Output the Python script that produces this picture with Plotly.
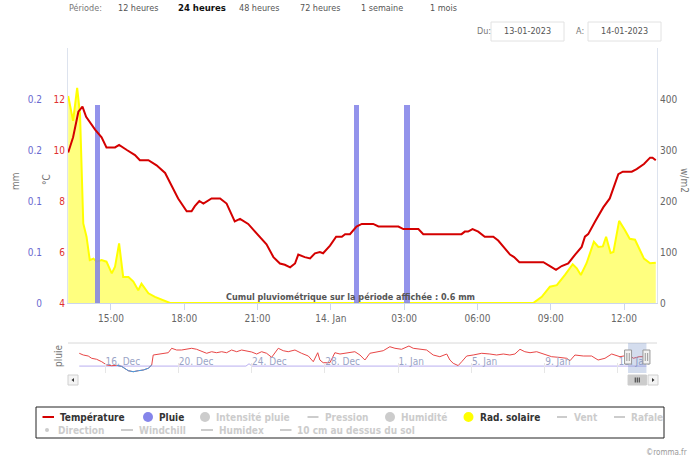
import plotly.graph_objects as go

# ---------------- data ----------------
main_times = [
    "2023-01-13 13:15", "2023-01-13 13:27", "2023-01-13 13:40", "2023-01-13 13:50", "2023-01-13 13:59",
    "2023-01-13 14:08", "2023-01-13 14:21", "2023-01-13 14:37", "2023-01-13 14:49", "2023-01-13 15:10",
    "2023-01-13 15:20", "2023-01-13 15:39", "2023-01-13 15:59", "2023-01-13 16:11", "2023-01-13 16:32",
    "2023-01-13 16:52", "2023-01-13 17:13", "2023-01-13 17:29", "2023-01-13 17:45", "2023-01-13 18:06",
    "2023-01-13 18:18", "2023-01-13 18:26", "2023-01-13 18:37", "2023-01-13 18:47", "2023-01-13 19:07",
    "2023-01-13 19:28", "2023-01-13 19:44", "2023-01-13 20:04", "2023-01-13 20:17", "2023-01-13 20:37",
    "2023-01-13 21:06", "2023-01-13 21:22", "2023-01-13 21:39", "2023-01-13 21:55", "2023-01-13 22:07",
    "2023-01-13 22:20", "2023-01-13 22:32", "2023-01-13 22:40", "2023-01-13 22:56", "2023-01-13 23:09",
    "2023-01-13 23:21", "2023-01-13 23:33", "2023-01-13 23:41", "2023-01-13 23:58", "2023-01-14 00:13",
    "2023-01-14 00:27", "2023-01-14 00:35", "2023-01-14 00:47", "2023-01-14 01:03", "2023-01-14 01:16",
    "2023-01-14 01:44", "2023-01-14 01:57", "2023-01-14 02:46", "2023-01-14 02:58", "2023-01-14 03:35",
    "2023-01-14 03:47", "2023-01-14 05:21", "2023-01-14 05:29", "2023-01-14 05:37", "2023-01-14 05:48",
    "2023-01-14 06:02", "2023-01-14 06:18", "2023-01-14 06:39", "2023-01-14 06:51", "2023-01-14 07:20",
    "2023-01-14 07:30", "2023-01-14 07:43", "2023-01-14 08:42", "2023-01-14 08:58", "2023-01-14 09:13",
    "2023-01-14 09:27", "2023-01-14 09:43", "2023-01-14 10:00", "2023-01-14 10:16", "2023-01-14 10:24",
    "2023-01-14 10:32", "2023-01-14 10:49", "2023-01-14 11:09", "2023-01-14 11:25", "2023-01-14 11:46",
    "2023-01-14 11:57", "2023-01-14 12:19", "2023-01-14 12:31", "2023-01-14 12:49", "2023-01-14 13:04",
    "2023-01-14 13:10", "2023-01-14 13:18",
]
main_temp = [
    9.9, 10.5, 11.5, 11.7, 11.3,
    11.1, 10.8, 10.5, 10.1, 10.1,
    10.2, 10.0, 9.8, 9.6, 9.6,
    9.4, 9.1, 8.6, 8.1, 7.6,
    7.6, 7.8, 8.0, 7.9, 8.1,
    8.1, 7.9, 7.2, 7.3, 7.1,
    6.6, 6.3, 5.8, 5.55, 5.5,
    5.4, 5.55, 5.9, 5.8, 5.75,
    5.95, 6.0, 5.95, 6.25, 6.6,
    6.6, 6.7, 6.7, 7.0, 7.1,
    7.1, 7.0, 7.0, 6.9, 6.9,
    6.7, 6.7, 6.8, 6.8, 6.9,
    6.8, 6.6, 6.6, 6.45, 5.9,
    5.8, 5.6, 5.6, 5.45, 5.3,
    5.45, 5.55, 5.9, 6.2, 6.6,
    6.7, 7.2, 7.75, 8.1, 9.05,
    9.15, 9.15, 9.25, 9.45, 9.7,
    9.7, 9.6,
]

rad_times = [
    "2023-01-13 13:15", "2023-01-13 13:27", "2023-01-13 13:37", "2023-01-13 13:44", "2023-01-13 13:52",
    "2023-01-13 14:00", "2023-01-13 14:08", "2023-01-13 14:17", "2023-01-13 14:25", "2023-01-13 14:37",
    "2023-01-13 14:49", "2023-01-13 15:02", "2023-01-13 15:10", "2023-01-13 15:20", "2023-01-13 15:30",
    "2023-01-13 15:43", "2023-01-13 15:55", "2023-01-13 16:07", "2023-01-13 16:15", "2023-01-13 16:32",
    "2023-01-13 16:48", "2023-01-13 17:08", "2023-01-13 17:25", "2023-01-14 08:17", "2023-01-14 08:38",
    "2023-01-14 08:58", "2023-01-14 09:15", "2023-01-14 09:35", "2023-01-14 09:54", "2023-01-14 10:04",
    "2023-01-14 10:14", "2023-01-14 10:28", "2023-01-14 10:46", "2023-01-14 10:57", "2023-01-14 11:08",
    "2023-01-14 11:16", "2023-01-14 11:27", "2023-01-14 11:34", "2023-01-14 11:48", "2023-01-14 12:02",
    "2023-01-14 12:14", "2023-01-14 12:27", "2023-01-14 12:49", "2023-01-14 13:04", "2023-01-14 13:18",
]
rad_vals = [
    406, 357, 422, 371, 156,
    130, 84, 87, 81, 84,
    81, 58, 71, 117, 51,
    51, 42, 25, 38, 19,
    12, 6, 0, 0, 12,
    32, 35, 55, 76, 68,
    55, 78, 120, 110, 111,
    130, 98, 100, 161, 143,
    126, 124, 87, 78, 79,
]

rain_times = ["2023-01-13 14:28", "2023-01-14 01:04", "2023-01-14 03:07"]
rain_vals = [0.2, 0.2, 0.2]

nav_times = [
    "2022-12-14 14:15", "2022-12-14 19:30", "2022-12-15 02:00", "2022-12-15 06:30", "2022-12-15 13:00",
    "2022-12-15 19:40", "2022-12-16 02:10", "2022-12-16 08:40", "2022-12-16 15:20", "2022-12-16 21:50",
    "2022-12-17 06:30", "2022-12-17 13:00", "2022-12-17 19:40", "2022-12-18 02:10", "2022-12-18 08:40",
    "2022-12-18 13:10", "2022-12-18 15:10", "2022-12-18 21:50", "2022-12-19 04:20", "2022-12-19 10:50",
    "2022-12-19 15:20", "2022-12-19 21:50", "2022-12-20 04:20", "2022-12-20 11:00", "2022-12-20 17:30",
    "2022-12-21 00:00", "2022-12-21 06:40", "2022-12-21 13:10", "2022-12-21 19:40", "2022-12-22 02:10",
    "2022-12-22 08:50", "2022-12-22 15:20", "2022-12-22 21:50", "2022-12-23 04:30", "2022-12-23 11:00",
    "2022-12-23 17:30", "2022-12-24 00:10", "2022-12-24 06:40", "2022-12-24 13:10", "2022-12-24 19:40",
    "2022-12-25 02:20", "2022-12-25 11:00", "2022-12-25 17:30", "2022-12-26 00:00", "2022-12-26 08:50",
    "2022-12-26 17:30", "2022-12-27 02:20", "2022-12-27 08:50", "2022-12-27 14:40", "2022-12-27 17:30",
    "2022-12-27 21:50", "2022-12-28 06:40", "2022-12-28 13:10", "2022-12-28 19:50", "2022-12-29 04:30",
    "2022-12-29 15:20", "2022-12-29 22:00", "2022-12-30 04:30", "2022-12-30 11:00", "2022-12-30 19:50",
    "2022-12-31 04:30", "2022-12-31 13:10", "2022-12-31 19:50", "2023-01-01 04:30", "2023-01-01 14:10",
    "2023-01-01 19:50", "2023-01-02 04:30", "2023-01-02 13:20", "2023-01-02 22:00", "2023-01-03 06:40",
    "2023-01-03 15:40", "2023-01-03 19:50", "2023-01-04 00:10", "2023-01-04 06:40", "2023-01-04 11:20",
    "2023-01-04 17:50", "2023-01-05 02:20", "2023-01-05 13:30", "2023-01-06 00:10", "2023-01-06 09:00",
    "2023-01-06 17:50", "2023-01-07 02:20", "2023-01-07 09:00", "2023-01-07 15:40", "2023-01-07 22:00",
    "2023-01-08 04:50", "2023-01-08 13:30", "2023-01-08 20:00", "2023-01-09 02:40", "2023-01-09 09:10",
    "2023-01-09 17:50", "2023-01-10 04:50", "2023-01-10 09:10", "2023-01-10 15:40", "2023-01-11 02:40",
    "2023-01-11 13:30", "2023-01-11 22:00", "2023-01-12 07:00", "2023-01-12 15:50", "2023-01-13 02:40",
    "2023-01-13 14:20", "2023-01-13 20:10", "2023-01-14 03:50", "2023-01-14 11:20",
]
nav_temp = [
    8.9, 7.7, 7.0, 5.4, 4.7,
    3.0, 0.7, 0.2, 0.5, -0.3,
    -3.3, -4.0, -3.3, -2.8, -1.6,
    0.7, 7.7, 8.4, 8.9, 9.3,
    12.4, 11.2, 11.2, 11.7, 12.4,
    11.7, 10.0, 8.9, 10.0, 9.3,
    10.0, 9.3, 11.2, 10.0, 11.2,
    10.7, 9.8, 8.4, 10.0, 8.9,
    6.1, 12.4, 10.7, 10.0, 11.2,
    8.9, 7.0, 3.0, 9.3, 4.2,
    2.3, 2.3, 9.3, 8.4, 8.9,
    10.0, 7.7, 4.2, 8.9, 10.0,
    10.7, 13.5, 12.4, 11.7, 14.0,
    12.4, 11.7, 11.2, 7.7, 6.5,
    8.4, 4.2, 1.9, 0.3, 3.0,
    7.0, 7.7, 8.9, 8.4, 7.7,
    8.4, 7.7, 8.4, 11.7, 10.0,
    9.3, 10.0, 8.9, 7.7, 6.5,
    6.1, 5.4, 3.7, 7.7, 7.0,
    7.0, 4.2, 5.4, 8.4, 6.5,
    7.7, 5.4, 6.5, 6.5,
]
nav_rain_times = ["2022-12-14 14:15", "2022-12-23 16:40", "2022-12-23 20:40", "2022-12-24 00:40", "2023-01-14 13:20"]
nav_rain_vals = [0, 0, 0.1, 0, 0]

x_tick_vals = ["2023-01-13 15:00", "2023-01-13 18:00", "2023-01-13 21:00", "2023-01-14 00:00",
               "2023-01-14 03:00", "2023-01-14 06:00", "2023-01-14 09:00", "2023-01-14 12:00"]
x_tick_text = ["15:00", "18:00", "21:00", "14. Jan", "03:00", "06:00", "09:00", "12:00"]
temp_ticks = [4, 6, 8, 10, 12]
rain_tick_vals = [0, 0.0515, 0.103, 0.1545, 0.206]
rain_tick_text = ["0", "0.1", "0.1", "0.2", "0.2"]
rad_ticks = [0, 100, 200, 300, 400]
nav_tick_vals = ["2022-12-16", "2022-12-20", "2022-12-24", "2022-12-28",
                 "2023-01-01", "2023-01-05", "2023-01-09", "2023-01-13"]
nav_tick_text = ["16. Dec", "20. Dec", "24. Dec", "28. Dec", "1. Jan", "5. Jan", "9. Jan", "13. Jan"]

view_start = "2023-01-13 13:14:30"
view_end = "2023-01-14 13:21"
nav_start = "2022-12-13 23:30"
nav_end = "2023-01-15 03:10"

period_labels = ["12 heures", "24 heures", "48 heures", "72 heures", "1 semaine", "1 mois"]
date_from = "13-01-2023"
date_to = "14-01-2023"
cumul_text = "Cumul pluviométrique sur la période affichée : 0.6 mm"

legend_labels = ["Température", "Pluie", "Intensité pluie", "Pression", "Humidité", "Rad. solaire",
                 "Vent", "Rafale", "Direction", "Windchill", "Humidex", "10 cm au dessus du sol"]
legend_active = [True, True, False, False, False, True, False, False, False, False, False, False]
legend_symbol = ["line", "circle", "circle", "line", "circle", "circle",
                 "line", "line", "dot", "line", "line", "line"]

# ---------------- styling / layout ----------------
W, H = 700, 462
FONT = "DejaVu Sans Condensed"
RED = "#d40000"
BLUE_BAR = "rgba(128,128,232,0.85)"
YELLOW = "#ffff00"


def X(px):
    return px / W


def Y(py):
    return 1 - py / H


fig = go.Figure()

fig.add_trace(go.Scatter(
    x=rad_times, y=rad_vals, name="Rad. solaire", mode="lines", yaxis="y",
    line=dict(color=YELLOW, width=2), fill="tozeroy", fillcolor="rgba(255,255,0,0.5)",
    showlegend=False, hoverinfo="skip"))
fig.add_trace(go.Bar(
    x=rain_times, y=rain_vals, name="Pluie", yaxis="y2", width=740000,
    marker=dict(color=BLUE_BAR, line=dict(width=0)), showlegend=False, hoverinfo="skip"))
fig.add_trace(go.Scatter(
    x=main_times, y=main_temp, name="Température", mode="lines", yaxis="y3",
    line=dict(color=RED, width=2), showlegend=False, hoverinfo="skip"))

# navigator
fig.add_trace(go.Scatter(
    x=nav_rain_times, y=nav_rain_vals, mode="lines", xaxis="x2", yaxis="y4",
    line=dict(color="rgb(185,175,240)", width=1), showlegend=False, hoverinfo="skip"))
fig.add_trace(go.Scatter(
    x=nav_times, y=nav_temp, mode="lines", xaxis="x2", yaxis="y5",
    line=dict(color="rgb(232,70,70)", width=1), showlegend=False, hoverinfo="skip"))
neg_idx = [i for i, v in enumerate(nav_temp)
           if v < 0 or (i > 0 and nav_temp[i - 1] < 0) or (i + 1 < len(nav_temp) and nav_temp[i + 1] < 0)]
fig.add_trace(go.Scatter(
    x=[nav_times[i] for i in neg_idx], y=[nav_temp[i] for i in neg_idx], mode="lines",
    xaxis="x2", yaxis="y5", line=dict(color="rgb(60,160,230)", width=1),
    showlegend=False, hoverinfo="skip"))

main_dom_x = [X(68), X(657)]
main_dom_y = [Y(303), Y(48)]
nav_dom_y = [Y(373), Y(343)]

tick_font = dict(family=FONT, size=10, color="#666666")

fig.update_layout(
    width=W, height=H, margin=dict(l=0, r=0, t=0, b=0, pad=0, autoexpand=False),
    paper_bgcolor="white", plot_bgcolor="white",
    font=dict(family=FONT, size=10, color="#666666"),
    showlegend=False, bargap=0,
    xaxis=dict(domain=main_dom_x, type="date", range=[view_start, view_end], anchor="y",
               tickmode="array", tickvals=x_tick_vals, ticktext=x_tick_text, automargin=False,
               showgrid=False, zeroline=False, showline=True, linecolor="#ccd6eb", linewidth=1,
               ticks="outside", ticklen=6, tickcolor="#ccd6eb", tickfont=tick_font),
    yaxis=dict(domain=main_dom_y, range=[0, 500], side="right", anchor="x", automargin=False,
               tickmode="array", tickvals=rad_ticks, showgrid=False, zeroline=False,
               showline=True, linecolor="#dde3ee", ticks="", ticklabelstandoff=0, tickfont=tick_font),
    yaxis2=dict(range=[0, 0.2575], overlaying="y", side="left", anchor="free", position=X(42),
                tickmode="array", tickvals=rain_tick_vals, ticktext=rain_tick_text, automargin=False,
                showgrid=False, zeroline=False, showline=False, ticks="", ticklabelstandoff=0,
                tickfont=dict(family=FONT, size=10, color="#6a6ad0")),
    yaxis3=dict(range=[4, 14], overlaying="y", side="left", anchor="x", automargin=False,
                tickmode="array", tickvals=temp_ticks, showgrid=False, zeroline=False,
                showline=True, linecolor="#dde3ee", ticks="", ticklabelstandoff=0,
                tickfont=dict(family=FONT, size=10, color="#e03030")),
    xaxis2=dict(domain=main_dom_x, type="date", range=[nav_start, nav_end], anchor="y4",
                tickmode="array", tickvals=nav_tick_vals, ticktext=nav_tick_text, automargin=False,
                showgrid=False, zeroline=False, showline=False,
                ticks="inside", ticklen=10, tickcolor="#e6e6e6", ticklabelposition="inside right",
                tickfont=dict(family=FONT, size=10, color="#9aa4c6")),
    yaxis4=dict(domain=nav_dom_y, range=[-0.3, 1.0], anchor="x2", visible=False, automargin=False),
    yaxis5=dict(range=[-4.9, 16.1], overlaying="y4", anchor="x2", visible=False, automargin=False),
)

shapes = []
ann = []


def text(t, x, y, size=10, color="#666666", bold=False, xanchor="left", angle=0, family=FONT):
    ann.append(dict(text=("<b>%s</b>" % t) if bold else t, x=X(x), y=Y(y), xref="paper", yref="paper",
                    xanchor=xanchor, yanchor="middle", showarrow=False, textangle=angle,
                    font=dict(family=family, size=size, color=color)))


# header
text("Période:", 67, 8, size=9, color="#777777")
period_x = [116, 176, 237, 298, 359, 428]
for lbl, px in zip(period_labels, period_x):
    sel = lbl == "24 heures"
    text(lbl, px, 8, size=9.5 if sel else 9, color="#111111" if sel else "#555555", bold=sel)
text("Du:", 475, 31, size=9, color="#777777")
text("A:", 574, 31, size=9, color="#777777")
for (x0, x1), d in zip([(491, 564), (588, 661)], [date_from, date_to]):
    shapes.append(dict(type="rect", xref="paper", yref="paper", x0=X(x0), x1=X(x1), y0=Y(41), y1=Y(22),
                       line=dict(color="#e2e2e2", width=1), fillcolor="white"))
    text(d, (x0 + x1) / 2, 31, size=9, color="#555555", xanchor="center")

# axis titles
text("mm", 15, 181, size=10, color="#777777", xanchor="center", angle=-90)
text("°C", 46, 180, size=10, color="#777777", xanchor="center", angle=-90)
text("w/m2", 685, 180, size=10, color="#777777", xanchor="center", angle=90)
text("pluie", 58, 356, size=10, color="#777777", xanchor="center", angle=-90)

# cumul annotation
text(cumul_text, 350, 297, size=9, color="#555555", bold=True, xanchor="center")

# navigator outline, selection, handles
shapes.append(dict(type="line", xref="paper", yref="paper", x0=X(68), x1=X(657), y0=Y(343), y1=Y(343),
                   line=dict(color="#d8d8d8", width=1)))
shapes.append(dict(type="rect", xref="x2", yref="paper", x0=view_start, x1=view_end,
                   y0=Y(373), y1=Y(343), line=dict(width=0), fillcolor="rgba(102,133,194,0.28)"))
for edge in (view_start, view_end):
    shapes.append(dict(type="rect", xref="x2", yref="paper", xsizemode="pixel", xanchor=edge,
                       x0=-3.5, x1=3.5, y0=Y(364), y1=Y(350), fillcolor="#f2f2f2",
                       line=dict(color="#999999", width=1)))
    for off in (-1.2, 1.2):
        shapes.append(dict(type="line", xref="x2", yref="paper", xsizemode="pixel", xanchor=edge,
                           x0=off, x1=off, y0=Y(361), y1=Y(353), line=dict(color="#999999", width=1)))

# scrollbar
shapes.append(dict(type="rect", xref="paper", yref="paper", x0=X(68), x1=X(78), y0=Y(385), y1=Y(375),
                   fillcolor="#f4f4f4", line=dict(color="#d0d0d0", width=1)))
shapes.append(dict(type="path", xref="paper", yref="paper",
                   path="M %f %f L %f %f L %f %f Z" % (X(71.5), Y(380), X(74), Y(378), X(74), Y(382)),
                   fillcolor="#333333", line=dict(width=0)))
shapes.append(dict(type="rect", xref="x2", yref="paper", x0=view_start, x1=view_end, y0=Y(385), y1=Y(375),
                   fillcolor="#cccccc", line=dict(color="#cccccc", width=1)))
for off in (-2, 0, 2):
    shapes.append(dict(type="line", xref="x2", yref="paper", xsizemode="pixel", xanchor="2023-01-14 01:17",
                       x0=off, x1=off, y0=Y(382.5), y1=Y(377.5), line=dict(color="#333333", width=1)))
shapes.append(dict(type="rect", xref="paper", yref="paper", x0=X(648), x1=X(658), y0=Y(385), y1=Y(375),
                   fillcolor="#f4f4f4", line=dict(color="#d0d0d0", width=1)))
shapes.append(dict(type="path", xref="paper", yref="paper",
                   path="M %f %f L %f %f L %f %f Z" % (X(654.5), Y(380), X(652), Y(378), X(652), Y(382)),
                   fillcolor="#333333", line=dict(width=0)))

# legend box
shapes.append(dict(type="rect", xref="paper", yref="paper", x0=X(36), x1=X(664), y0=Y(438), y1=Y(407),
                   line=dict(color="#222222", width=1), fillcolor="white"))
sym_x = [(42.5, 54), (148,), (205,), (307.5, 318.5), (390,), (468.5,), (557, 567), (614, 625),
         (47,), (121, 133), (201, 213), (280, 291.5)]
txt_x = [58, 157, 214, 323, 399, 478, 572, 629, 56, 137, 216.5, 295]
rows_y = [417] * 8 + [430] * 4
active_colors = {"Température": RED, "Pluie": "#8585ea", "Rad. solaire": YELLOW}
for lbl, act, sym, sx, tx, ry in zip(legend_labels, legend_active, legend_symbol, sym_x, txt_x, rows_y):
    col = active_colors.get(lbl, "#cccccc") if act else "#cccccc"
    if sym == "line":
        shapes.append(dict(type="line", xref="paper", yref="paper", x0=X(sx[0]), x1=X(sx[1]),
                           y0=Y(ry), y1=Y(ry), line=dict(color=col, width=2)))
    else:
        r = 5 if sym == "circle" else 2
        shapes.append(dict(type="circle", xref="paper", yref="paper", x0=X(sx[0] - r), x1=X(sx[0] + r),
                           y0=Y(ry + r), y1=Y(ry - r), fillcolor=col, line=dict(width=0)))
    text(lbl, tx, ry, size=10, color="#333333" if act else "#cccccc", bold=True)

text("©romma.fr", 689, 452, size=8, color="#999999", xanchor="right")

fig.update_layout(shapes=shapes, annotations=ann)
fig.write_html("out.html", config={"displayModeBar": False},
               post_script="document.body.style.margin='0';document.body.style.padding='0';")
